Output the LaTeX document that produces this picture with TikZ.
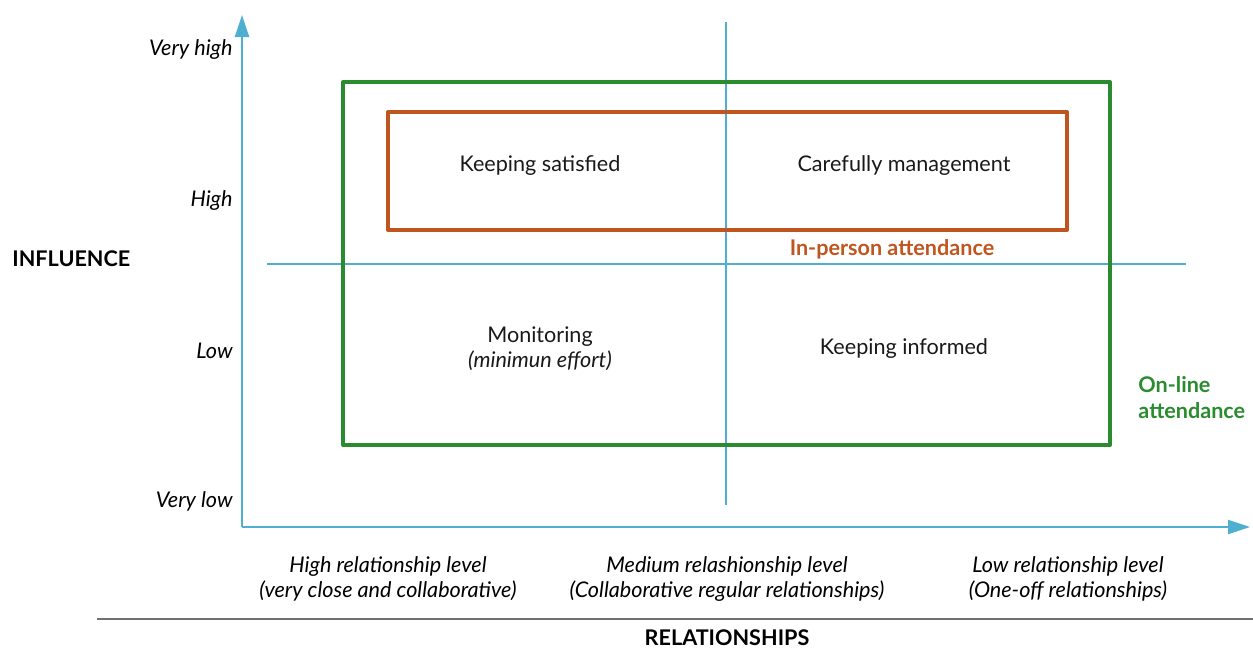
\documentclass[tikz,border=0pt]{standalone}
\usepackage{fontspec}
\setmainfont{Lato}
\usetikzlibrary{arrows.meta}
\definecolor{axisblue}{HTML}{4FAFD0}
\definecolor{grn}{HTML}{2A8C2E}
\definecolor{org}{HTML}{C0561F}
\definecolor{rulegray}{HTML}{707070}
\begin{document}
\begin{tikzpicture}[x=0.5pt,y=-0.5pt,
  axis/.style={draw=axisblue,line width=1.2pt,-{Triangle[width=7pt,length=11pt]}},
  divider/.style={draw=axisblue,line width=0.6pt},
  frame/.style={line width=2pt,line join=round},
  quad/.style={font=\fontsize{10.8}{12.5}\selectfont,align=center,text=black!90},
  ylab/.style={font=\fontsize{10.8}{12.5}\selectfont\itshape,anchor=east,inner sep=0pt},
  xlab/.style={font=\fontsize{10.8}{12.5}\selectfont\itshape,align=center},
  title/.style={font=\fontsize{10.8}{12.5}\selectfont\bfseries}]
\useasboundingbox (0,0) rectangle (1253,650);
% axes
\coordinate (o) at (242,527);
\coordinate (ytip) at (242,15);
\coordinate (xtip) at (1250,527);
\draw[axis] (o) -- (ytip);
\draw[axis] (o) -- (xtip);
% dividers
\coordinate (vt) at (726,22);
\coordinate (vb) at (726,505);
\coordinate (hl) at (267,264);
\coordinate (hr) at (1186,264);
\draw[divider] (vt) -- (vb);
\draw[divider] (hl) -- (hr);
% frames
\draw[frame,draw=grn] (343,82) rectangle (1110,445);
\draw[frame,draw=org] (388,112) rectangle (1067,230);
% labels
\node[title,text=org] (inp) at (892,249) {In-person attendance};
\node[title,text=grn,align=left,anchor=west,inner sep=0pt,font=\fontsize{10.8}{13}\selectfont\bfseries] (onl) at (1138,398) {On-line\\attendance};
\node[ylab] (vh) at (233,50) {Very high};
\node[ylab] (hi) at (233,201) {High};
\node[ylab] (lo) at (233,351) {Low};
\node[ylab] (vl) at (233,501) {Very low};
\node[title,anchor=west,inner sep=0pt] (infl) at (12,259) {INFLUENCE};
% quadrants
\node[quad] (ks) at (540,166) {Keeping satisfied};
\node[quad] (cm) at (904,166) {Carefully management};
\node[quad] (mo) at (540,349) {Monitoring\\\textit{(minimun effort)}};
\node[quad] (ki) at (904,349) {Keeping informed};
% x labels
\node[xlab] (x1) at (388,579) {High relationship level\\(very close and collaborative)};
\node[xlab] (x2) at (727,579) {Medium relashionship level\\(Collaborative regular relationships)};
\node[xlab] (x3) at (1068,579) {Low relationship level\\(One-off relationships)};
% bottom rule
\coordinate (rl) at (97,619);
\coordinate (rr) at (1253,619);
\draw[rulegray,line width=0.7pt] (rl) -- (rr);
\node[title,inner sep=0pt] (rel) at (727,638) {RELATIONSHIPS};
\end{tikzpicture}
\end{document}
